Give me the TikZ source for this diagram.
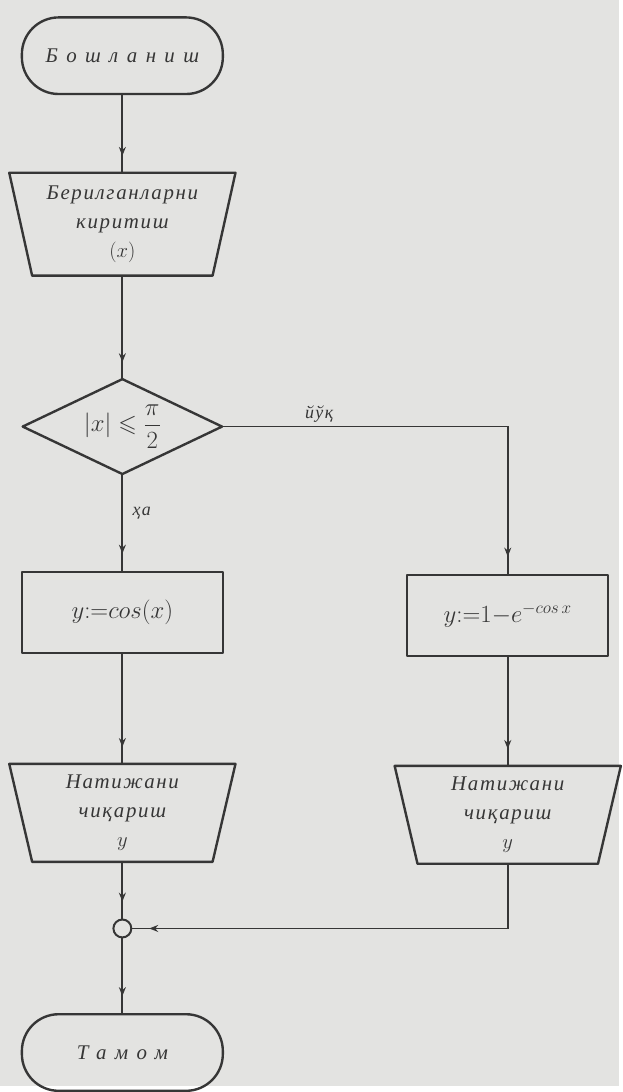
\documentclass[tikz,border=0pt]{standalone}
\usepackage{amsmath, amssymb}
\usepackage{tikz}
\usetikzlibrary{arrows.meta, positioning, decorations.markings}
\usepackage{fontspec}
\setmainfont{Liberation Serif}[LetterSpace=8]
\newfontfamily\spaced{Liberation Serif}[LetterSpace=40]
\definecolor{paper}{HTML}{E3E3E1}
\definecolor{ink}{HTML}{363636}
\newcommand{\blockfont}{\itshape\fontsize{21}{29}\selectfont}
\newcommand{\mathfont}{\fontsize{24}{29}\selectfont}
% outlines drawn round plain nodes
\newcommand{\trapline}[1]{\draw[outline] (#1.north west) -- (#1.north east)
    -- ([xshift=-23pt]#1.south east) -- ([xshift=23pt]#1.south west) -- cycle;}
\newcommand{\diamline}[1]{\draw[outline] (#1.north) -- (#1.east) -- (#1.south)
    -- (#1.west) -- cycle;}

\begin{document}
\begin{tikzpicture}[
        node distance=78pt and 183pt,
        outline/.style={draw=ink, line width=2.4pt, line join=round},
        term/.style={rectangle, outline, rounded corners=37pt,
                    minimum width=202pt, minimum height=77pt, text=ink,
                    font=\spaced\blockfont},
        io/.style={rectangle, minimum width=227pt, minimum height=98pt,
                    align=center, text=ink, font=\blockfont},
        proc/.style={rectangle, outline, minimum width=202pt,
                    minimum height=82pt, text=ink, font=\mathfont},
        cond/.style={rectangle, inner sep=0pt, minimum width=200pt,
                    minimum height=95pt, text=ink, font=\mathfont},
        joint/.style={circle, draw=ink, line width=2pt, minimum size=18pt, inner sep=0pt},
        lbl/.style={text=ink, font=\itshape\fontsize{18}{22}\selectfont},
        arr/.style={ink, line width=1.8pt, postaction={decorate},
                    decoration={markings, mark=at position -17pt with
                    {\arrow{Stealth[length=9pt, width=7pt]}}}}
    ]
    \fill[paper] (0,0) rectangle (622pt,-1092pt);

    % Left column
    \node[term] (start) at (123pt,-56pt) {Бошланиш};
    \node[io, minimum height=103pt, below=of start] (inp)
        {Берилганларни\\киритиш\\$(x)$};
    \node[cond, below=104pt of inp] (cnd) {$|x|\leqslant\dfrac{\pi}{2}$};
    \node[proc, below=97pt of cnd] (cosb) {$y{:=}cos(x)$};
    \node[io, below=110pt of cosb] (outl) {Натижани\\чиқариш\\$y$};
    \node[joint, below=57pt of outl] (jn) {};
    \node[term, below=75pt of jn] (stop) {Тамом};

    % Right column
    \node[proc, right=of cosb, yshift=-3pt] (expb) {$y{:=}1{-}e^{-cos\,x}$};
    \node[io, below=109pt of expb] (outr) {Натижани\\чиқариш\\$y$};

    \trapline{inp} \trapline{outl} \trapline{outr}
    \diamline{cnd}

    % Connections
    \draw[arr] (start.south)--(inp.north);
    \draw[arr] (inp.south)--(cnd.north);
    \draw[arr] (cnd.south)--(cosb.north) node[lbl, pos=0.4, right=6pt] {ҳа};
    \draw[arr] (cnd.east) -| (expb.north) node[lbl, pos=0.17, above] {йўқ};
    \draw[arr] (cosb.south)--(outl.north);
    \draw[arr] (expb.south)--(outr.north);
    \draw[arr] (outl.south)--(jn.north);
    \draw[arr] (outr.south) |- (jn.east);
    \draw[arr] (jn.south)--(stop.north);
\end{tikzpicture}
\end{document}
